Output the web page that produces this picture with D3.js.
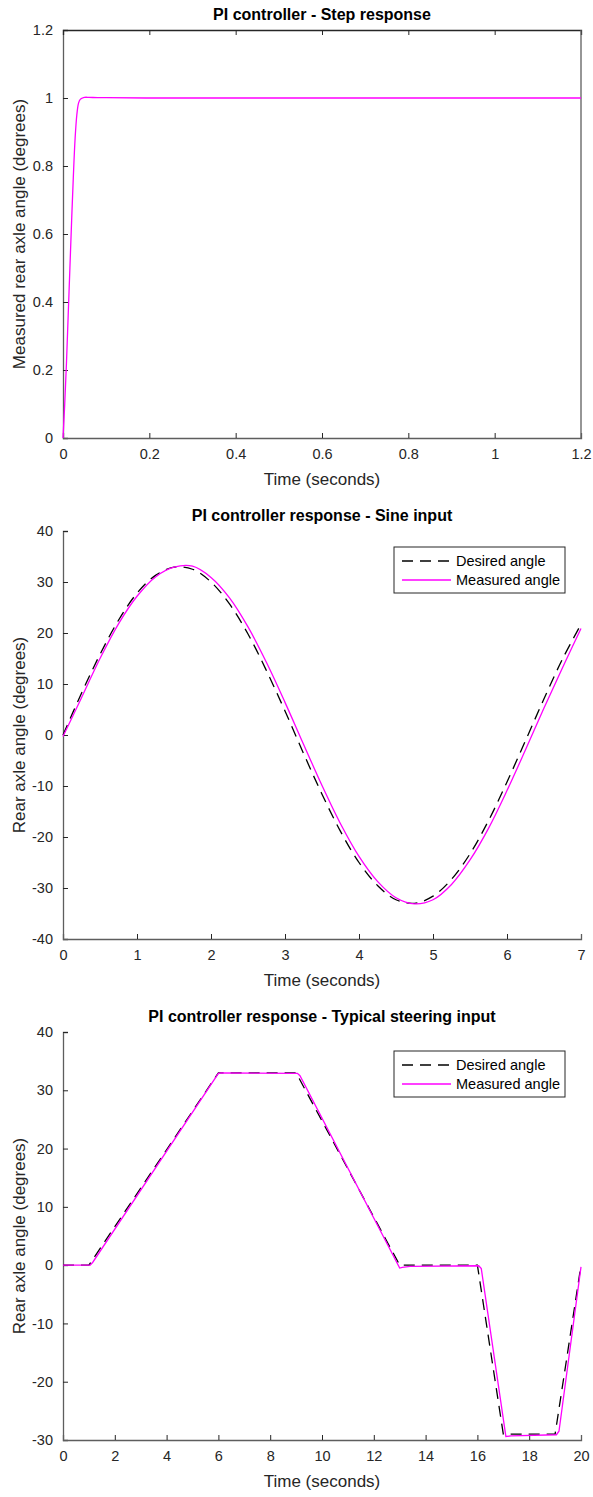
<!DOCTYPE html>
<html><head><meta charset="utf-8">
<script src="https://cdn.jsdelivr.net/npm/d3@7"></script>
<style>
body{margin:0;background:#fff;}
svg{display:block;font-family:"Liberation Sans",Arial,Helvetica,sans-serif;}
</style></head><body>
<svg id="c" width="593" height="1497"></svg>
<script>
// ---- Plot 1: step response ----
const stepT = [0,0.004,0.008,0.012,0.016,0.02,0.024,0.028,0.032,0.036,0.04,0.045,0.05,0.06,0.08,0.1,0.2,0.4,0.6,0.8,1.0,1.2];
const stepY = [0,0.10,0.22,0.36,0.50,0.64,0.77,0.88,0.95,0.985,0.996,1.0,1.002,1.002,1.001,1.001,1.0,1.0,1.0,1.0,1.0,1.0];
const stepXTicks = [0,0.2,0.4,0.6,0.8,1,1.2];
const stepYTicks = [0,0.2,0.4,0.6,0.8,1,1.2];

// ---- Plot 2: sine input ----
const sineT = [0,0.25,0.5,0.75,1,1.25,1.5,1.75,2,2.25,2.5,2.75,3,3.25,3.5,3.75,4,4.25,4.5,4.75,5,5.25,5.5,5.75,6,6.25,6.5,6.75,7];
const sineDesired = [0,8.2,15.8,22.5,27.8,31.3,32.9,32.5,30.0,25.7,19.8,12.6,4.7,-3.6,-11.6,-18.9,-25.0,-29.5,-32.3,-33.0,-31.6,-28.3,-23.3,-16.8,-9.2,-1.1,7.1,14.9,21.7];
const sineMeasured = [-0.3,7.3,15.0,21.8,27.2,31.0,32.9,33.1,30.9,26.9,21.2,14.2,6.4,-1.8,-9.9,-17.4,-23.8,-28.7,-31.9,-33.1,-32.3,-29.3,-24.5,-18.3,-10.9,-2.9,5.3,13.2,20.9];
const sineXTicks = [0,1,2,3,4,5,6,7];
const sineYTicks = [-40,-30,-20,-10,0,10,20,30,40];

// ---- Plot 3: typical steering input ----
const steerTD = [0,1,6,9,13,16,17,19,20];
const steerDesired = [0,0,33,33,0,0,-29,-29,0];
const steerTM = [0,1.05,1.15,6.0,6.1,9.05,9.15,13.0,13.1,13.4,16.05,16.15,17.1,17.3,19.05,19.15,20];
const steerMeasured = [0,0,0.5,32.9,33.0,32.9,32.5,-0.5,-0.4,-0.2,-0.1,-0.6,-29.4,-29.3,-29.1,-28.5,-0.3];
const steerXTicks = [0,2,4,6,8,10,12,14,16,18,20];
const steerYTicks = [-30,-20,-10,0,10,20,30,40];

const svg = d3.select("#c");
const AX = "#262626", AXL = "#5e5e5e";
const left = 63, right = 581;

function panel(cfg){
  const x = d3.scaleLinear().domain(cfg.xd).range([left,right]);
  const y = d3.scaleLinear().domain(cfg.yd).range([cfg.bottom,cfg.top]);
  const g = svg.append("g");
  const xa = g.append("g").attr("transform",`translate(0,${cfg.bottom})`)
    .call(d3.axisBottom(x).tickValues(cfg.xt).tickSize(-5).tickPadding(11).tickFormat(d=>String(d)));
  const ya = g.append("g").attr("transform",`translate(${left},0)`)
    .call(d3.axisLeft(y).tickValues(cfg.yt).tickSize(-5).tickPadding(10).tickFormat(d=>String(d)));
  [xa,ya].forEach(a=>{
    a.select(".domain").attr("stroke",AXL).attr("stroke-width",1.3);
    a.selectAll(".tick line").attr("stroke",AX).attr("stroke-width",1);
    a.selectAll(".tick text").attr("fill",AX).attr("font-size",14.5).attr("font-family","Liberation Sans, Arial, sans-serif");
  });
  xa.selectAll(".tick line").filter(d=>d===cfg.xd[0]||d===cfg.xd[1]).remove();
  ya.selectAll(".tick line").filter(d=>d===cfg.yd[0]).remove();
  if(cfg.box){
    const ta = g.append("g").attr("transform",`translate(0,${cfg.top})`)
      .call(d3.axisTop(x).tickValues(cfg.xt).tickSize(-5).tickFormat(""));
    ta.select(".domain").attr("stroke",AX).attr("stroke-width",1.3);
    ta.selectAll(".tick line").attr("stroke",AX);
    ta.selectAll(".tick line").filter(d=>d===cfg.xd[0]||d===cfg.xd[1]).remove();
    g.append("line").attr("x1",right).attr("x2",right).attr("y1",cfg.top).attr("y2",cfg.bottom)
      .attr("stroke",AXL).attr("stroke-width",1.3);
  }
  g.append("text").attr("x",(left+right)/2).attr("y",cfg.top-10).attr("text-anchor","middle")
    .attr("font-weight","bold").attr("font-size",16).attr("fill","#000").text(cfg.title);
  g.append("text").attr("x",(left+right)/2).attr("y",cfg.bottom+47).attr("text-anchor","middle")
    .attr("font-size",17).attr("fill",AX).text("Time (seconds)");
  g.append("text").attr("transform",`translate(25,${(cfg.top+cfg.bottom)/2}) rotate(-90)`)
    .attr("text-anchor","middle").attr("font-size",17).attr("fill",AX).text(cfg.ylabel);
  const line = d3.line().x(d=>x(d[0])).y(d=>y(d[1]));
  const lc = d3.line().x(d=>x(d[0])).y(d=>y(d[1])).curve(d3.curveCatmullRom);
  cfg.series.forEach(s=>{
    g.append("path").datum(d3.zip(s.t,s.v)).attr("fill","none")
      .attr("stroke",s.color).attr("stroke-width",1.3)
      .attr("stroke-dasharray",s.dash||null)
      .attr("d",s.smooth?lc:line);
  });
  if(cfg.legend){
    const lx = 394, ly = cfg.legend, lw = 171, lh = 46;
    const lg = g.append("g");
    lg.append("rect").attr("x",lx).attr("y",ly).attr("width",lw).attr("height",lh)
      .attr("fill","#fff").attr("stroke",AX).attr("stroke-width",1);
    const items = [["Desired angle","#000","11,7"],["Measured angle","#ff00ff",null]];
    items.forEach((it,i)=>{
      const yy = ly+14+i*19;
      lg.append("line").attr("x1",lx+8).attr("x2",lx+57).attr("y1",yy).attr("y2",yy)
        .attr("stroke",it[1]).attr("stroke-width",1.3).attr("stroke-dasharray",it[2]);
      lg.append("text").attr("x",lx+62).attr("y",yy+5).attr("font-size",14.5).attr("fill","#000").text(it[0]);
    });
  }
}

panel({xd:[0,1.2],yd:[0,1.2],xt:stepXTicks,yt:stepYTicks,top:30,bottom:438,box:true,
  title:"PI controller - Step response",ylabel:"Measured rear axle angle (degrees)",
  series:[{t:stepT,v:stepY,color:"#ff00ff",smooth:true}]});
panel({xd:[0,7],yd:[-40,40],xt:sineXTicks,yt:sineYTicks,top:531,bottom:939,box:false,
  title:"PI controller response - Sine input",ylabel:"Rear axle angle (degrees)",legend:547,
  series:[{t:sineT,v:sineDesired,color:"#000",dash:"11,7",smooth:true},{t:sineT,v:sineMeasured,color:"#ff00ff",smooth:true}]});
panel({xd:[0,20],yd:[-30,40],xt:steerXTicks,yt:steerYTicks,top:1032,bottom:1440,box:false,
  title:"PI controller response - Typical steering input",ylabel:"Rear axle angle (degrees)",legend:1051,
  series:[{t:steerTD,v:steerDesired,color:"#000",dash:"11,7"},{t:steerTM,v:steerMeasured,color:"#ff00ff"}]});
</script>
</body></html>
